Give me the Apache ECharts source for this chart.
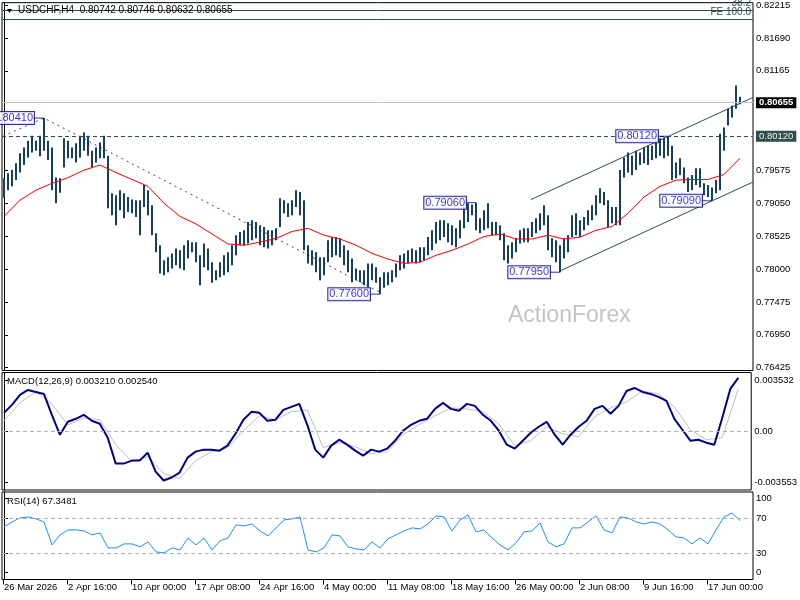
<!DOCTYPE html>
<html>
<head>
<meta charset="utf-8">
<title>USDCHF H4</title>
<script src="https://cdn.jsdelivr.net/npm/echarts@6/dist/echarts.min.js"></script>
<style>
html, body { margin: 0; padding: 0; background: #fff; }
#chart { width: 800px; height: 600px; }
</style>
</head>
<body>
<div id="chart"></div>
<script>
// H4 bars, high / low per bar slot
let barHigh = [
  0.7945, 0.7953, 0.7958, 0.7969, 0.7985, 0.7994, 0.8005, 0.8013, 0.8005, 0.8013,
  0.8041, 0.8005, 0.7994, 0.7946, 0.7945, 0.8009, 0.8005, 0.7994, 0.8001, 0.8013,
  0.8018, 0.8013, 0.7989, 0.7994, 0.8002, 0.8013, 0.7981, 0.7921, 0.7918, 0.7926,
  0.7921, 0.7915, 0.7911, 0.7910, 0.7910, 0.7934, 0.7926, 0.7902, 0.7857, 0.7838,
  0.7814, 0.7819, 0.7825, 0.7833, 0.7830, 0.7838, 0.7846, 0.7843, 0.7843, 0.7822,
  0.7841, 0.7833, 0.7811, 0.7798, 0.7811, 0.7822, 0.7827, 0.7838, 0.7854, 0.7859,
  0.7862, 0.7875, 0.7878, 0.7875, 0.7870, 0.7867, 0.7862, 0.7862, 0.7865, 0.7913,
  0.7910, 0.7905, 0.7910, 0.7926, 0.7923, 0.7910, 0.7838, 0.7830, 0.7827, 0.7819,
  0.7819, 0.7846, 0.7851, 0.7851, 0.7849, 0.7838, 0.7830, 0.7817, 0.7801, 0.7798,
  0.7798, 0.7809, 0.7809, 0.7803, 0.7787, 0.7795, 0.7795, 0.7798, 0.7809, 0.7822,
  0.7825, 0.7830, 0.7833, 0.7830, 0.7835, 0.7835, 0.7851, 0.7862, 0.7875, 0.7878,
  0.7878, 0.7873, 0.7870, 0.7865, 0.7878, 0.7899, 0.7905, 0.7903, 0.7906, 0.7881,
  0.7894, 0.7905, 0.7875, 0.7875, 0.7870, 0.7857, 0.7838, 0.7843, 0.7849, 0.7862,
  0.7865, 0.7865, 0.7875, 0.7881, 0.7889, 0.7902, 0.7886, 0.7849, 0.7846, 0.7838,
  0.7849, 0.7854, 0.7886, 0.7889, 0.7878, 0.7883, 0.7894, 0.7902, 0.7918, 0.7929,
  0.7923, 0.7910, 0.7899, 0.7899, 0.7958, 0.7978, 0.7986, 0.7981, 0.7989, 0.7986,
  0.7994, 0.7997, 0.7997, 0.8005, 0.8009, 0.8010, 0.8012, 0.7997, 0.7970, 0.7977,
  0.7962, 0.7946, 0.7950, 0.7961, 0.7961, 0.7937, 0.7934, 0.7930, 0.7942, 0.8016,
  0.8026, 0.8056, 0.8061, 0.8093, 0.8075
];
let barLow = [
  0.7914, 0.7926, 0.7932, 0.7942, 0.7954, 0.7966, 0.7978, 0.7986, 0.7989, 0.7980,
  0.7989, 0.7974, 0.7926, 0.7905, 0.7922, 0.7962, 0.7977, 0.7977, 0.7970, 0.7978,
  0.7989, 0.7981, 0.7962, 0.7970, 0.7977, 0.7977, 0.7897, 0.7886, 0.7870, 0.7894,
  0.7881, 0.7891, 0.7889, 0.7883, 0.7854, 0.7899, 0.7886, 0.7854, 0.7827, 0.7793,
  0.7790, 0.7795, 0.7801, 0.7806, 0.7801, 0.7798, 0.7817, 0.7827, 0.7811, 0.7774,
  0.7803, 0.7798, 0.7778, 0.7782, 0.7787, 0.7790, 0.7795, 0.7806, 0.7822, 0.7838,
  0.7838, 0.7841, 0.7846, 0.7849, 0.7838, 0.7835, 0.7833, 0.7838, 0.7846, 0.7867,
  0.7889, 0.7883, 0.7886, 0.7899, 0.7886, 0.7830, 0.7809, 0.7806, 0.7795, 0.7782,
  0.7790, 0.7811, 0.7819, 0.7822, 0.7819, 0.7806, 0.7795, 0.7779, 0.7782, 0.7779,
  0.7774, 0.7771, 0.7782, 0.7778, 0.7760, 0.7770, 0.7774, 0.7779, 0.7787, 0.7798,
  0.7801, 0.7809, 0.7811, 0.7809, 0.7811, 0.7814, 0.7822, 0.7830, 0.7841, 0.7846,
  0.7851, 0.7843, 0.7838, 0.7835, 0.7849, 0.7865, 0.7875, 0.7886, 0.7862, 0.7857,
  0.7862, 0.7865, 0.7854, 0.7854, 0.7846, 0.7814, 0.7809, 0.7817, 0.7827, 0.7841,
  0.7843, 0.7843, 0.7851, 0.7857, 0.7862, 0.7870, 0.7830, 0.7819, 0.7811, 0.7795,
  0.7817, 0.7827, 0.7851, 0.7854, 0.7851, 0.7862, 0.7870, 0.7878, 0.7886, 0.7905,
  0.7902, 0.7867, 0.7873, 0.7870, 0.7870, 0.7946, 0.7954, 0.7950, 0.7958, 0.7966,
  0.7969, 0.7966, 0.7974, 0.7977, 0.7981, 0.7977, 0.7981, 0.7942, 0.7945, 0.7950,
  0.7937, 0.7923, 0.7926, 0.7934, 0.7930, 0.7918, 0.7915, 0.7909, 0.7921, 0.7926,
  0.7989, 0.8029, 0.8042, 0.8056, 0.8063
];
// red moving average, one point every 4 bars
let maValues = [
  0.7884, 0.7910, 0.7926, 0.7937, 0.7946, 0.7958, 0.7966, 0.7954, 0.7943, 0.7932,
  0.7905, 0.7884, 0.7872, 0.7856, 0.7840, 0.7838, 0.7843, 0.7849, 0.7860, 0.7865,
  0.7854, 0.7848, 0.7838, 0.7825, 0.7816, 0.7809, 0.7811, 0.7822, 0.7830, 0.7840,
  0.7852, 0.7856, 0.7848, 0.7848, 0.7854, 0.7848, 0.7851, 0.7862, 0.7868, 0.7889,
  0.7915, 0.7932, 0.7942, 0.7943, 0.7943, 0.7951, 0.7977
];
// MACD main line, one point every 2 bars
let macdValues = [
  0.00110, 0.00158, 0.00218, 0.00248, 0.00236, 0.00224, 0.00098, -0.00022, 0.00056, 0.00074,
  0.00098, 0.00062, 0.00044, -0.00040, -0.00196, -0.00196, -0.00178, -0.00178, -0.00130, -0.00244,
  -0.00298, -0.00280, -0.00250, -0.00160, -0.00124, -0.00112, -0.00112, -0.00118, -0.00088, -0.00016,
  0.00068, 0.00116, 0.00110, 0.00062, 0.00068, 0.00128, 0.00146, 0.00164, 0.00038, -0.00112,
  -0.00160, -0.00088, -0.00052, -0.00082, -0.00118, -0.00148, -0.00112, -0.00124, -0.00106, -0.00058,
  0.00002, 0.00038, 0.00062, 0.00074, 0.00134, 0.00170, 0.00134, 0.00122, 0.00164, 0.00152,
  0.00098, 0.00062, 0.00002, -0.00082, -0.00106, -0.00058, -0.00010, 0.00026, 0.00056, -0.00022,
  -0.00082, -0.00022, 0.00026, 0.00062, 0.00134, 0.00152, 0.00104, 0.00152, 0.00242, 0.00260,
  0.00236, 0.00224, 0.00206, 0.00182, 0.00074, 0.00008, -0.00058, -0.00052, -0.00070, -0.00082,
  0.00080, 0.00254, 0.00321
];
// MACD signal line, one point every 4 bars
let signalValues = [
  0.00062, 0.00170, 0.00236, 0.00164, 0.00038, 0.00080, 0.00068, -0.00082, -0.00184, -0.00154,
  -0.00256, -0.00286, -0.00178, -0.00124, -0.00100, 0.00002, 0.00092, 0.00068, 0.00116, 0.00128,
  -0.00100, -0.00070, -0.00094, -0.00136, -0.00124, -0.00022, 0.00038, 0.00092, 0.00140, 0.00134,
  0.00116, 0.00044, -0.00088, -0.00058, 0.00026, -0.00016, -0.00034, 0.00086, 0.00140, 0.00176,
  0.00242, 0.00224, 0.00146, 0.00008, -0.00052, -0.00040, 0.00254
];
// RSI(14), one point every 2 bars
let rsiValues = [
  60.1, 65.8, 70.4, 71.5, 69.3, 65.8, 39.5, 51.0, 56.7, 56.7,
  55.5, 51.0, 53.3, 36.1, 36.1, 40.7, 40.7, 37.3, 43.0, 31.5,
  30.4, 36.1, 33.8, 47.5, 39.5, 47.5, 33.8, 44.1, 47.5, 62.4,
  61.3, 63.5, 55.5, 49.8, 59.0, 68.1, 69.3, 71.5, 33.8, 31.5,
  36.1, 51.0, 49.8, 37.3, 35.0, 33.8, 43.0, 36.1, 46.4, 51.0,
  55.5, 59.0, 57.8, 63.5, 72.7, 71.5, 55.5, 68.1, 73.8, 54.4,
  56.7, 47.5, 39.5, 33.8, 41.8, 54.4, 55.5, 64.7, 43.0, 37.3,
  40.7, 59.0, 59.0, 65.8, 72.7, 56.7, 53.3, 71.5, 70.4, 65.8,
  63.5, 65.8, 63.5, 56.7, 48.7, 47.5, 40.7, 47.5, 40.7, 56.7,
  71.5, 76.1, 67.3
];
let dateLabels = ['26 Mar 2026', '2 Apr 16:00', '10 Apr 00:00', '17 Apr 08:00', '24 Apr 16:00', '4 May 00:00',
  '11 May 08:00', '18 May 16:00', '26 May 00:00', '2 Jun 08:00', '9 Jun 16:00', '17 Jun 00:00'];
let priceTicks = [0.82215, 0.81690, 0.81165, 0.79575, 0.79050, 0.78525, 0.78000, 0.77475, 0.76950, 0.76425];
let macdTickPos = [0.00308, 0, -0.00308];
let macdTickText = ['0.003532', '0.00', '-0.003553'];
let rsiTickPos = [92.8, 70, 30, 7.9];
let rsiTickText = ['100', '70', '30', '0'];
// swing high / low labels
let swingIdx = [10, 94, 118, 139, 166, 177];
let swingPrice = [0.8041, 0.7760, 0.7906, 0.7795, 0.8012, 0.7909];
let swingText = ['0.80410', '0.77600', '0.79060', '0.77950', '0.80120', '0.79090'];
// trend lines [bar, price]
let trendDown = [[-0.25, 0.8012], [10, 0.8041], [94, 0.7763]];
let channelTop = [[131.75, 0.7911], [187.25, 0.8074]];
let channelBottom = [[139, 0.7797], [187.25, 0.7939]];
let lastPrice = 0.80655;
let resistance = 0.80120;
let fibo382 = 0.82136;
let fibo100 = 0.81993;

const FONT = 'Liberation Sans';
const xMin = -0.5, xMax = 187.25;
let tickPos = dateLabels.map(function (d, k) { return k * 16 - 0.25; });

function lookup(pos, txt, v) {
    for (let i = 0; i < pos.length; i++) {
        if (Math.abs(pos[i] - v) < 1e-9) return txt[i];
    }
    return '';
}

let chart = echarts.init(document.getElementById('chart'));
chart.setOption({
    animation: false,
    backgroundColor: '#fff',
    grid: [
        {left: 2, top: 2, width: 751, height: 368.5, show: true, borderColor: '#000', borderWidth: 1},
        {left: 2, top: 372.5, width: 751, height: 117.5, show: true, borderColor: '#000', borderWidth: 1},
        {left: 2, top: 492, width: 751, height: 87.5, show: true, borderColor: '#000', borderWidth: 1}
    ],
    xAxis: [
        {type: 'value', gridIndex: 0, min: xMin, max: xMax, show: false},
        {type: 'value', gridIndex: 1, min: xMin, max: xMax, show: false},
        {
            type: 'value', gridIndex: 2, min: xMin, max: xMax,
            axisLine: {show: false},
            splitLine: {show: false},
            axisTick: {show: true, customValues: tickPos, length: 5, lineStyle: {color: '#000'}},
            axisLabel: {
                customValues: tickPos, align: 'left', margin: 3, padding: [0, 0, 0, 1],
                color: '#000', fontSize: 9.5, fontFamily: FONT,
                formatter: function (v) { return lookup(tickPos, dateLabels, v); }
            }
        }
    ],
    yAxis: [
        {
            type: 'value', gridIndex: 0, position: 'right', min: 0.76381, max: 0.82252,
            axisLine: {show: true, lineStyle: {color: '#000'}},
            splitLine: {show: false},
            axisTick: {show: true, customValues: priceTicks, length: 4, lineStyle: {color: '#000'}},
            axisLabel: {
                customValues: priceTicks, margin: 3, color: '#000', fontSize: 9.5, fontFamily: FONT,
                formatter: function (v) { return v.toFixed(5); }
            }
        },
        {
            type: 'value', gridIndex: 1, position: 'right', min: -0.003553, max: 0.003532,
            axisLine: {show: true, lineStyle: {color: '#000'}},
            splitLine: {show: false},
            axisTick: {show: true, customValues: macdTickPos, length: 4, lineStyle: {color: '#000'}},
            axisLabel: {
                customValues: macdTickPos, margin: 3, color: '#000', fontSize: 9.5, fontFamily: FONT,
                formatter: function (v) { return lookup(macdTickPos, macdTickText, v); }
            }
        },
        {
            type: 'value', gridIndex: 2, position: 'right', min: 0, max: 100,
            axisLine: {show: true, lineStyle: {color: '#000'}},
            splitLine: {show: false},
            axisTick: {show: true, customValues: rsiTickPos, length: 4, lineStyle: {color: '#000'}},
            axisLabel: {
                customValues: rsiTickPos, margin: 3, color: '#000', fontSize: 9.5, fontFamily: FONT,
                formatter: function (v) { return lookup(rsiTickPos, rsiTickText, v); }
            }
        }
    ],
    graphic: [
        {type: 'polygon', shape: {points: [[7, 9], [12, 9], [9.5, 13]]}, style: {fill: '#000'}, z: 100},
        {type: 'text', left: 18, top: 5, z: 100,
            style: {text: 'USDCHF,H4  0.80742 0.80746 0.80632 0.80655', font: '10px "Liberation Sans"', fill: '#000'}},
        {type: 'text', left: 7, top: 376, z: 100,
            style: {text: 'MACD(12,26,9) 0.003210 0.002540', font: '9.5px "Liberation Sans"', fill: '#000'}},
        {type: 'text', left: 7, top: 496, z: 100,
            style: {text: 'RSI(14) 67.3481', font: '9.5px "Liberation Sans"', fill: '#000'}},
        {type: 'text', left: 508, top: 304, z: 0,
            style: {text: 'ActionForex', font: '23px "Liberation Sans"', fill: '#c4c4c4'}}
    ],
    series: [
        {
            name: 'bars', type: 'custom', xAxisIndex: 0, yAxisIndex: 0, z: 4,
            data: barHigh.map(function (h, i) { return [i, barLow[i], h]; }),
            encode: {x: 0, y: [1, 2]},
            renderItem: function (params, api) {
                let lo = api.coord([api.value(0), api.value(1)]);
                let hi = api.coord([api.value(0), api.value(2)]);
                return {
                    type: 'line',
                    shape: {x1: lo[0], y1: lo[1], x2: hi[0], y2: hi[1]},
                    style: {stroke: '#173f5f', lineWidth: 2}
                };
            }
        },
        {
            name: 'MA', type: 'line', xAxisIndex: 0, yAxisIndex: 0, z: 5,
            data: maValues.map(function (v, k) { return [k * 4, v]; }),
            showSymbol: false, symbol: 'none',
            lineStyle: {color: '#ff0000', width: 1},
            markLine: {
                silent: true, symbol: ['none', 'none'], animation: false, precision: 6,
                data: [
                    {yAxis: lastPrice, lineStyle: {color: '#c0c0c0', type: 'solid', width: 1},
                        label: {show: true, position: 'end', distance: 3, formatter: '0.80655',
                            backgroundColor: '#000', color: '#fff', padding: [1, 3, 0, 3],
                            fontSize: 9.5, fontFamily: FONT, fontWeight: 'bold'}},
                    {yAxis: resistance, lineStyle: {color: '#2f4f4f', type: [4, 3], width: 1},
                        label: {show: true, position: 'end', distance: 3, formatter: '0.80120',
                            backgroundColor: '#2f4f4f', color: '#f0f0f0', padding: [1, 3, 0, 3],
                            fontSize: 9.5, fontFamily: FONT}},
                    {yAxis: fibo382, lineStyle: {color: '#2f4f4f', type: 'solid', width: 1},
                        label: {show: true, position: 'insideEndTop', distance: 2, formatter: '38.2',
                            color: '#2f4f4f', fontSize: 10, fontFamily: FONT}},
                    {yAxis: fibo100, lineStyle: {color: '#2f4f4f', type: 'solid', width: 1},
                        label: {show: true, position: 'insideEndTop', distance: 2, formatter: 'FE 100.0',
                            color: '#2f4f4f', fontSize: 10, fontFamily: FONT}}
                ]
            }
        },
        {
            name: 'trendDown', type: 'line', xAxisIndex: 0, yAxisIndex: 0, z: 3,
            data: trendDown, showSymbol: false, symbol: 'none', silent: true,
            lineStyle: {color: '#2f4f4f', width: 1, type: [2, 4]}
        },
        {
            name: 'channelTop', type: 'line', xAxisIndex: 0, yAxisIndex: 0, z: 3,
            data: channelTop, showSymbol: false, symbol: 'none', silent: true,
            lineStyle: {color: '#2f4f4f', width: 1}
        },
        {
            name: 'channelBottom', type: 'line', xAxisIndex: 0, yAxisIndex: 0, z: 3,
            data: channelBottom, showSymbol: false, symbol: 'none', silent: true,
            lineStyle: {color: '#2f4f4f', width: 1}
        },
        {
            name: 'swings', type: 'scatter', xAxisIndex: 0, yAxisIndex: 0, z: 10, silent: true,
            data: swingIdx.map(function (b, k) {
                return {value: [b, swingPrice[k]], label: {formatter: swingText[k]}};
            }),
            symbol: 'rect', symbolSize: [10, 1], symbolOffset: [-5, 0],
            itemStyle: {color: '#000080'},
            label: {
                show: true, position: 'left', distance: 0,
                color: '#0000cd', backgroundColor: '#fff', borderColor: '#000080', borderWidth: 1,
                padding: [1, 1, 0, 1], fontSize: 11, fontFamily: FONT
            }
        },
        {
            name: 'signal', type: 'line', xAxisIndex: 1, yAxisIndex: 1, z: 3,
            data: signalValues.map(function (v, k) { return [k * 4, v]; }),
            showSymbol: false, symbol: 'none',
            lineStyle: {color: '#c0c0c0', width: 1}
        },
        {
            name: 'MACD', type: 'line', xAxisIndex: 1, yAxisIndex: 1, z: 4,
            data: macdValues.map(function (v, k) { return [k * 2, v]; }),
            showSymbol: false, symbol: 'none',
            lineStyle: {color: '#00008b', width: 2},
            markLine: {
                silent: true, symbol: ['none', 'none'], label: {show: false}, precision: 6,
                lineStyle: {color: '#b0b0b0', type: [4, 3], width: 1},
                data: [{yAxis: 0}]
            }
        },
        {
            name: 'RSI', type: 'line', xAxisIndex: 2, yAxisIndex: 2, z: 4,
            data: rsiValues.map(function (v, k) { return [k * 2, v]; }),
            showSymbol: false, symbol: 'none',
            lineStyle: {color: '#1e90ff', width: 1},
            markLine: {
                silent: true, symbol: ['none', 'none'], label: {show: false},
                lineStyle: {color: '#b0b0b0', type: [4, 3], width: 1},
                data: [{yAxis: 70}, {yAxis: 30}]
            }
        }
    ]
});
</script>
</body>
</html>
